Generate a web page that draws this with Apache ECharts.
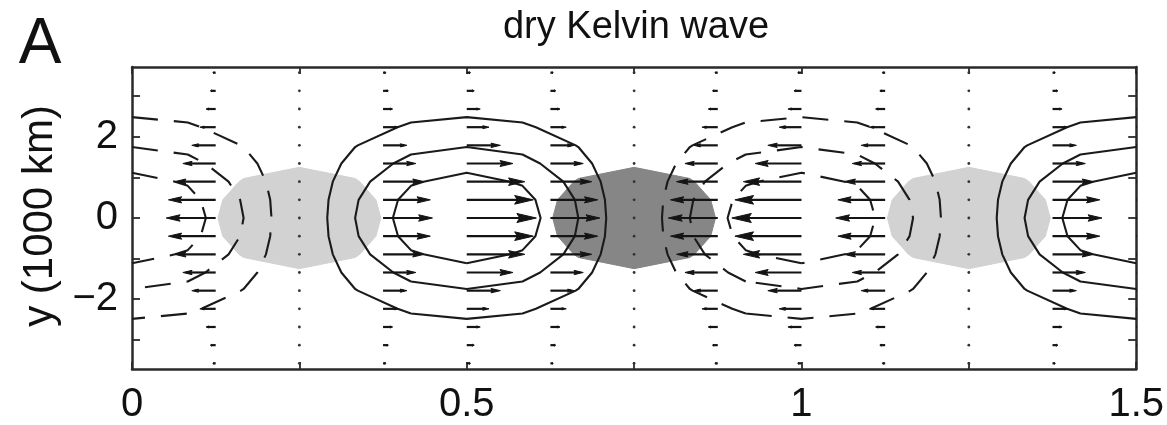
<!DOCTYPE html>
<html>
<head>
<meta charset="utf-8">
<script src="https://cdn.jsdelivr.net/npm/echarts@6/dist/echarts.min.js"></script>
<style>html,body{margin:0;padding:0;background:#fff;}#c{width:1167px;height:425px;}</style>
</head>
<body>
<div id="c"></div>
<script>
// ---------- data ----------
// model grid nodes along x (fraction of domain) and y (1000 km)
const xNodes = [0, 0.0833, 0.1667, 0.25, 0.3333, 0.4167, 0.5, 0.5833, 0.6667, 0.75, 0.8333, 0.9167, 1, 1.0833, 1.1667, 1.25, 1.3333, 1.4167, 1.5];
const yNodes = [-3.58, -3.1325, -2.685, -2.2375, -1.79, -1.3425, -0.895, -0.4475, 0, 0.4475, 0.895, 1.3425, 1.79, 2.2375, 2.685, 3.1325, 3.58];
// zonal structure of pressure / zonal wind at xNodes
const zonalProfile = [-1, -0.87, -0.5, 0, 0.5, 0.87, 1, 0.87, 0.5, 0, -0.5, -0.87, -1, -0.87, -0.5, 0, 0.5, 0.87, 1];
// zonal structure of divergence at xNodes
const divProfile = [0, 0.5, 0.87, 1, 0.87, 0.5, 0, -0.5, -0.87, -1, -0.87, -0.5, 0, 0.5, 0.87, 1, 0.87, 0.5, 0];
// meridional (equatorially trapped) structure at yNodes
const meridionalProfile = [0.054, 0.108, 0.194, 0.32, 0.483, 0.664, 0.834, 0.956, 1, 0.956, 0.834, 0.664, 0.483, 0.32, 0.194, 0.108, 0.054];
const contourLevels = [-0.75, -0.5, -0.25, 0.25, 0.5, 0.75];
const shadeLevel = 0.7;
// quiver columns and zonal wind amplitude per column
const arrowX = [0, 0.125, 0.25, 0.375, 0.5, 0.625, 0.75, 0.875, 1, 1.125, 1.25, 1.375, 1.5];
const arrowU = [-1, -0.71, 0, 0.71, 1, 0.71, 0, -0.71, -1, -0.71, 0, 0.71, 1];
// axis ticks
const xTickValues = [0, 0.25, 0.5, 0.75, 1, 1.25, 1.5];
const xLabelValues = [0, 0.5, 1, 1.5];
const yTickValues = [-3, -2, -1, 0, 1, 2, 3];
const yLabelValues = [-2, 0, 2];
const titleText = 'dry Kelvin wave';
const panelText = 'A';
const yName = 'y (1000 km)';

// ---------- field on grid ----------
function field(xp) {
  return yNodes.map((_, j) => xNodes.map((_, i) => xp[i] * meridionalProfile[j]));
}
const phi = field(zonalProfile);
const dv = field(divProfile);

// marching squares -> polylines
function contour(f, level) {
  const segs = [];
  const nx = xNodes.length, ny = yNodes.length;
  const P = (i, j) => [xNodes[i], yNodes[j]];
  function cross(v1, p1, v2, p2) {
    const t = (level - v1) / (v2 - v1);
    return [p1[0] + t * (p2[0] - p1[0]), p1[1] + t * (p2[1] - p1[1])];
  }
  for (let j = 0; j < ny - 1; j++) {
    for (let i = 0; i < nx - 1; i++) {
      const a = f[j][i], b = f[j][i + 1], c = f[j + 1][i + 1], d = f[j + 1][i];
      const pts = [];
      if ((a > level) !== (b > level)) pts.push(['h' + i + '_' + j, cross(a, P(i, j), b, P(i + 1, j))]);
      if ((b > level) !== (c > level)) pts.push(['v' + (i + 1) + '_' + j, cross(b, P(i + 1, j), c, P(i + 1, j + 1))]);
      if ((d > level) !== (c > level)) pts.push(['h' + i + '_' + (j + 1), cross(d, P(i, j + 1), c, P(i + 1, j + 1))]);
      if ((a > level) !== (d > level)) pts.push(['v' + i + '_' + j, cross(a, P(i, j), d, P(i, j + 1))]);
      if (pts.length === 2) segs.push([pts[0], pts[1]]);
      else if (pts.length === 4) {
        const m = (a + b + c + d) / 4;
        if ((m > level) === (a > level)) { segs.push([pts[0], pts[1]]); segs.push([pts[2], pts[3]]); }
        else { segs.push([pts[0], pts[3]]); segs.push([pts[1], pts[2]]); }
      }
    }
  }
  const byKey = {};
  segs.forEach((s, idx) => { [s[0][0], s[1][0]].forEach(k => { (byKey[k] = byKey[k] || []).push(idx); }); });
  const used = new Array(segs.length).fill(false);
  const lines = [];
  for (let s0 = 0; s0 < segs.length; s0++) {
    if (used[s0]) continue;
    used[s0] = true;
    const startKey = segs[s0][0][0];
    let line = [segs[s0][0][1], segs[s0][1][1]];
    let key = segs[s0][1][0];
    let closed = false;
    while (true) {
      const nxt = (byKey[key] || []).find(k => !used[k]);
      if (nxt === undefined) break;
      used[nxt] = true;
      const s = segs[nxt];
      const other = s[0][0] === key ? s[1] : s[0];
      line.push(other[1]);
      key = other[0];
      if (key === startKey) { closed = true; break; }
    }
    if (!closed) {
      key = startKey;
      while (true) {
        const nxt = (byKey[key] || []).find(k => !used[k]);
        if (nxt === undefined) break;
        used[nxt] = true;
        const s = segs[nxt];
        const other = s[0][0] === key ? s[1] : s[0];
        line.unshift(other[1]);
        key = other[0];
      }
    }
    lines.push(line);
  }
  return lines;
}

const series = [];
// shading
const lightPolys = contour(dv, shadeLevel);
const darkPolys = contour(dv.map(r => r.map(v => -v)), shadeLevel);
function polySeries(polys, color) {
  return {
    type: 'custom', clip: true, silent: true, animation: false, z: 1,
    data: polys.map((p, i) => [i]),
    encode: { x: -1, y: -1 },
    renderItem: function (params, api) {
      const pts = polys[params.dataIndex].map(p => api.coord(p));
      return { type: 'polygon', shape: { points: pts }, style: { fill: color, stroke: color, lineWidth: 1 } };
    }
  };
}
series.push(polySeries(lightPolys, '#d2d2d2'));
series.push(polySeries(darkPolys, '#868686'));

// contours
contourLevels.forEach(lv => {
  contour(phi, lv).forEach(line => {
    series.push({
      type: 'line', data: line, showSymbol: false, symbol: 'none', silent: true, animation: false,
      clip: true, z: 3,
      lineStyle: { color: '#1a1a1a', width: 2.1, type: lv < 0 ? [26, 16] : 'solid', cap: 'butt' }
    });
  });
});

// quiver
const arrowData = [];
arrowX.forEach((x, i) => yNodes.forEach((y, j) => arrowData.push([x, y, arrowU[i] * meridionalProfile[j]])));
const arrowScale = 0.104; // data units of x per unit wind
series.push({
  type: 'custom', clip: true, silent: true, animation: false, z: 4,
  data: arrowData,
  encode: { x: 0, y: 1 },
  renderItem: function (params, api) {
    const x = api.value(0), y = api.value(1), u = api.value(2);
    const s = api.coord([x, y]);
    const e = api.coord([x + u * arrowScale, y]);
    const len = e[0] - s[0];
    const col = '#141414';
    if (Math.abs(len) < 1.6) {
      return { type: 'circle', shape: { cx: s[0], cy: s[1], r: 1.4 }, style: { fill: '#333' } };
    }
    const dir = len > 0 ? 1 : -1;
    const L = Math.abs(len);
    const hl = 0.28 * L, hw = Math.max(1, 0.065 * L);
    return {
      type: 'group',
      children: [
        { type: 'line', shape: { x1: s[0], y1: s[1], x2: e[0] - dir * hl * 0.5, y2: e[1] }, style: { stroke: col, lineWidth: 2.2 } },
        { type: 'polygon', shape: { points: [[e[0], e[1]], [e[0] - dir * hl, e[1] - hw], [e[0] - dir * hl * 0.85, e[1]], [e[0] - dir * hl, e[1] + hw]] }, style: { fill: col, stroke: col, lineWidth: 1 } }
      ]
    };
  }
});

const axisLineStyle = { color: '#2a2a2a', width: 2.5 };
const tickStyle = { color: '#2a2a2a', width: 1.8 };
const labelFont = { fontSize: 40, color: '#111', fontFamily: 'Liberation Sans, Arial, sans-serif' };

const option = {
  animation: false,
  backgroundColor: '#fff',
  grid: { left: 132, top: 67, width: 1007, height: 303, show: false },
  xAxis: [
    {
      type: 'value', min: 0, max: 1.5, position: 'bottom',
      axisLine: { show: true, onZero: false, lineStyle: axisLineStyle },
      axisTick: { show: true, inside: true, length: 7, customValues: xTickValues, lineStyle: tickStyle },
      axisLabel: Object.assign({ customValues: xLabelValues, margin: 16, formatter: v => String(v) }, labelFont),
      splitLine: { show: false }
    },
    {
      type: 'value', min: 0, max: 1.5, position: 'top',
      axisLine: { show: true, onZero: false, lineStyle: axisLineStyle },
      axisTick: { show: true, inside: true, length: 7, customValues: xTickValues, lineStyle: tickStyle },
      axisLabel: { show: false },
      splitLine: { show: false }
    }
  ],
  yAxis: [
    {
      type: 'value', min: -3.72, max: 3.72, position: 'left',
      axisLine: { show: true, onZero: false, lineStyle: axisLineStyle },
      axisTick: { show: true, inside: true, length: 8, customValues: yTickValues, lineStyle: tickStyle },
      axisLabel: Object.assign({ customValues: yLabelValues, margin: 14, formatter: v => (v < 0 ? '\u2212' + Math.abs(v) : String(v)) }, labelFont),
      splitLine: { show: false }
    },
    {
      type: 'value', min: -3.72, max: 3.72, position: 'right',
      axisLine: { show: true, onZero: false, lineStyle: axisLineStyle },
      axisTick: { show: true, inside: true, length: 8, customValues: yTickValues, lineStyle: tickStyle },
      axisLabel: { show: false },
      splitLine: { show: false }
    }
  ],
  graphic: [
    { type: 'text', x: 636, y: 28, silent: true,
      style: { text: titleText, font: '38px "Liberation Sans", Arial, sans-serif', fill: '#111', textAlign: 'center', textVerticalAlign: 'middle' } },
    { type: 'text', x: 40, y: 45, silent: true,
      style: { text: panelText, font: '64px "Liberation Sans", Arial, sans-serif', fill: '#111', textAlign: 'center', textVerticalAlign: 'middle' } },
    { type: 'text', x: 40, y: 216, rotation: Math.PI / 2, silent: true,
      style: { text: yName, font: '42px "Liberation Sans", Arial, sans-serif', fill: '#111', textAlign: 'center', textVerticalAlign: 'middle' } }
  ],
  series: series
};
const chart = echarts.init(document.getElementById('c'), null, { renderer: 'canvas' });
chart.setOption(option);
</script>
</body>
</html>
